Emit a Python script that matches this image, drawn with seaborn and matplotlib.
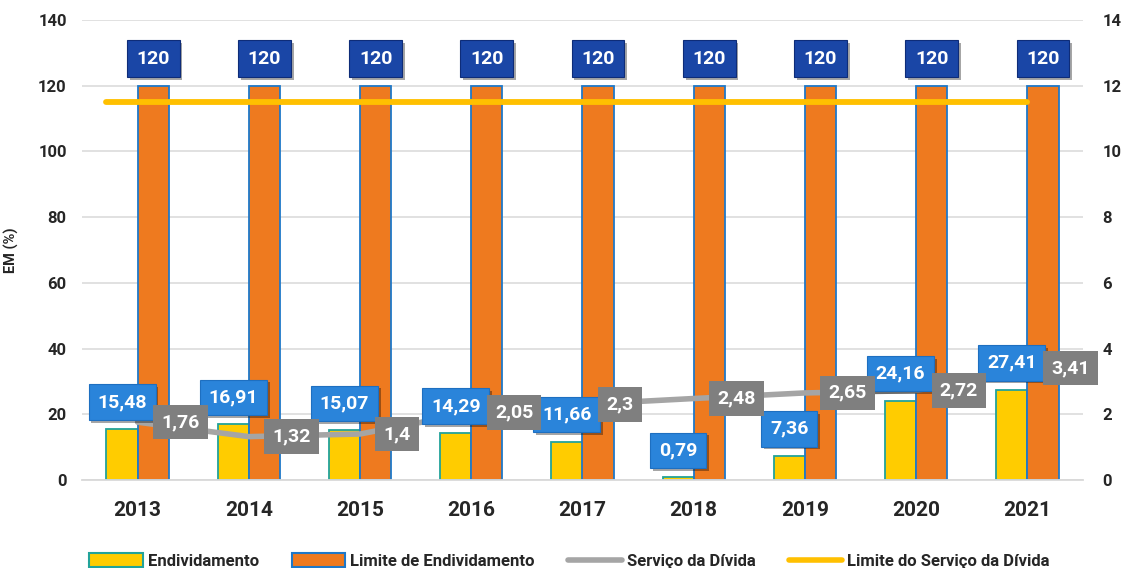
import numpy as np
import pandas as pd
import matplotlib
matplotlib.use("Agg")
import matplotlib.pyplot as plt
import seaborn as sns
from matplotlib.patches import Patch
from matplotlib.lines import Line2D
import matplotlib.patheffects as pe

# ---------------- data ----------------
anos = ["2013", "2014", "2015", "2016", "2017", "2018", "2019", "2020", "2021"]
endividamento = [15.48, 16.91, 15.07, 14.29, 11.66, 0.79, 7.36, 24.16, 27.41]
limite_endividamento = [120, 120, 120, 120, 120, 120, 120, 120, 120]
servico_divida = [1.76, 1.32, 1.4, 2.05, 2.3, 2.48, 2.65, 2.72, 3.41]
limite_servico = [11.5, 11.5, 11.5, 11.5, 11.5, 11.5, 11.5, 11.5, 11.5]
series_names = ["Endividamento", "Limite de Endividamento",
                "Serviço da Dívida", "Limite do Serviço da Dívida"]
left_ticks = [0, 20, 40, 60, 80, 100, 120, 140]
right_ticks = [0, 2, 4, 6, 8, 10, 12, 14]

# ---------------- style ----------------
sns.set_theme(style="white")
plt.rcParams["font.family"] = ["Roboto", "DejaVu Sans"]

C_YEL = "#FFCC00"
C_YEL_EDGE = "#22A39A"
C_ORA = "#EE7A1F"
C_ORA_EDGE = "#1F78C8"
C_GRAY = "#A5A5A5"
C_LIM = "#FFC000"
C_LBL_BLUE = "#2A84DA"
C_LBL_NAVY = "#1A46A6"
C_LBL_GRAY = "#7F7F7F"


def fmt(v):
    return str(v).replace(".", ",")


fig = plt.figure(figsize=(11.21, 5.68), dpi=100)
ax = fig.add_axes([82 / 1121, 1 - 480 / 568, (1083 - 82) / 1121, 460 / 568])

df = pd.DataFrame({
    "Ano": anos * 2,
    "Serie": [series_names[0]] * len(anos) + [series_names[1]] * len(anos),
    "Valor": endividamento + limite_endividamento,
})
sns.barplot(data=df, x="Ano", y="Valor", hue="Serie",
            palette=[C_YEL, C_ORA], width=0.56, gap=0, saturation=1,
            legend=False, ax=ax, zorder=2)
for bar in ax.containers[0]:
    bar.set_edgecolor(C_YEL_EDGE)
    bar.set_linewidth(1.3)
for bar in ax.containers[1]:
    bar.set_edgecolor(C_ORA_EDGE)
    bar.set_linewidth(1.3)

ax.set_xlim(-0.5, len(anos) - 0.5)
ax.set_ylim(0, 140)
ax.set_yticks(left_ticks)
ax.set_yticklabels([str(t) for t in left_ticks], fontsize=12, fontweight="bold")
ax.tick_params(axis="y", length=0, pad=11)
ax.tick_params(axis="x", length=0, pad=15)
for lab in ax.get_xticklabels():
    lab.set_fontsize(15)
    lab.set_fontweight("bold")
ax.set_xlabel("")
ax.set_ylabel("EM (%)", fontsize=10.5, fontweight="bold", labelpad=14)
ax.grid(axis="y", color="#D9D9D9", linewidth=1.1, zorder=0)
ax.set_axisbelow(True)
for s in ["top", "right", "left"]:
    ax.spines[s].set_visible(False)
ax.spines["bottom"].set_color("#D9D9D9")
ax.spines["bottom"].set_linewidth(1.3)

shadow = [pe.withSimplePatchShadow(offset=(2, -2), shadow_rgbFace="black", alpha=0.35)]

# ---------------- secondary axis ----------------
ax2 = ax.twinx()
ax2.set_ylim(0, 14)
ax2.set_yticks(right_ticks)
ax2.set_yticklabels([str(t) for t in right_ticks], fontsize=12, fontweight="bold")
ax2.tick_params(axis="y", length=0, pad=14)
for s in ["top", "right", "left", "bottom"]:
    ax2.spines[s].set_visible(False)
ax2.grid(False)

x_pos = np.arange(len(anos))
sns.lineplot(x=x_pos, y=servico_divida, color=C_GRAY, linewidth=4,
             ax=ax2, zorder=3, legend=False)
x_lim = np.linspace(-0.28, len(anos) - 1, len(anos))
sns.lineplot(x=x_lim, y=limite_servico, color=C_LIM, linewidth=4.2,
             ax=ax2, zorder=3, legend=False, solid_capstyle="round")
ax2.set_xlim(-0.5, len(anos) - 0.5)

LBL_FS = 14

# Endividamento labels
for i, v in enumerate(endividamento):
    b = ax.containers[0][i]
    x = b.get_x() + b.get_width() / 2
    t = ax2.annotate(fmt(v), (x, v), xycoords=ax.transData, xytext=(0, 13),
                     textcoords="offset points", ha="center", va="bottom",
                     color="white", fontsize=LBL_FS, fontweight="bold", zorder=8,
                     bbox=dict(boxstyle="square,pad=0.45", fc=C_LBL_BLUE, ec="#1E6FC0", lw=0.8))
    t.get_bbox_patch().set_path_effects(shadow)

# Serviço da Dívida labels
for i, v in enumerate(servico_divida):
    ax2.annotate(fmt(v), (i, v), xytext=(17, 0), textcoords="offset points",
                 ha="left", va="center", color="white", fontsize=LBL_FS,
                 fontweight="bold", zorder=9,
                 bbox=dict(boxstyle="square,pad=0.42", fc=C_LBL_GRAY, ec="none"))

# Limite de Endividamento labels
for i, v in enumerate(limite_endividamento):
    b = ax.containers[1][i]
    x = b.get_x() + b.get_width() / 2
    t = ax2.annotate(fmt(v), (x, v), xycoords=ax.transData, xytext=(0, 13),
                     textcoords="offset points", ha="center", va="bottom",
                     color="white", fontsize=LBL_FS, fontweight="bold", zorder=10,
                     bbox=dict(boxstyle="square,pad=0.5", fc=C_LBL_NAVY, ec="#0E2C78", lw=0.8))
    t.get_bbox_patch().set_path_effects(shadow)

# ---------------- legend ----------------
handles = [
    Patch(facecolor=C_YEL, edgecolor=C_YEL_EDGE, linewidth=1.5),
    Patch(facecolor=C_ORA, edgecolor=C_ORA_EDGE, linewidth=1.5),
    Line2D([0], [0], color=C_GRAY, linewidth=4, solid_capstyle="round"),
    Line2D([0], [0], color=C_LIM, linewidth=4, solid_capstyle="round"),
]
fig.legend(handles, series_names, loc="lower center", bbox_to_anchor=(0.508, -0.028),
           ncol=4, frameon=False, prop=dict(size=12, weight="bold"),
           handlelength=3.2, handleheight=0.9, columnspacing=2.0, handletextpad=0.3)

fig.savefig("out.png", dpi=100)
